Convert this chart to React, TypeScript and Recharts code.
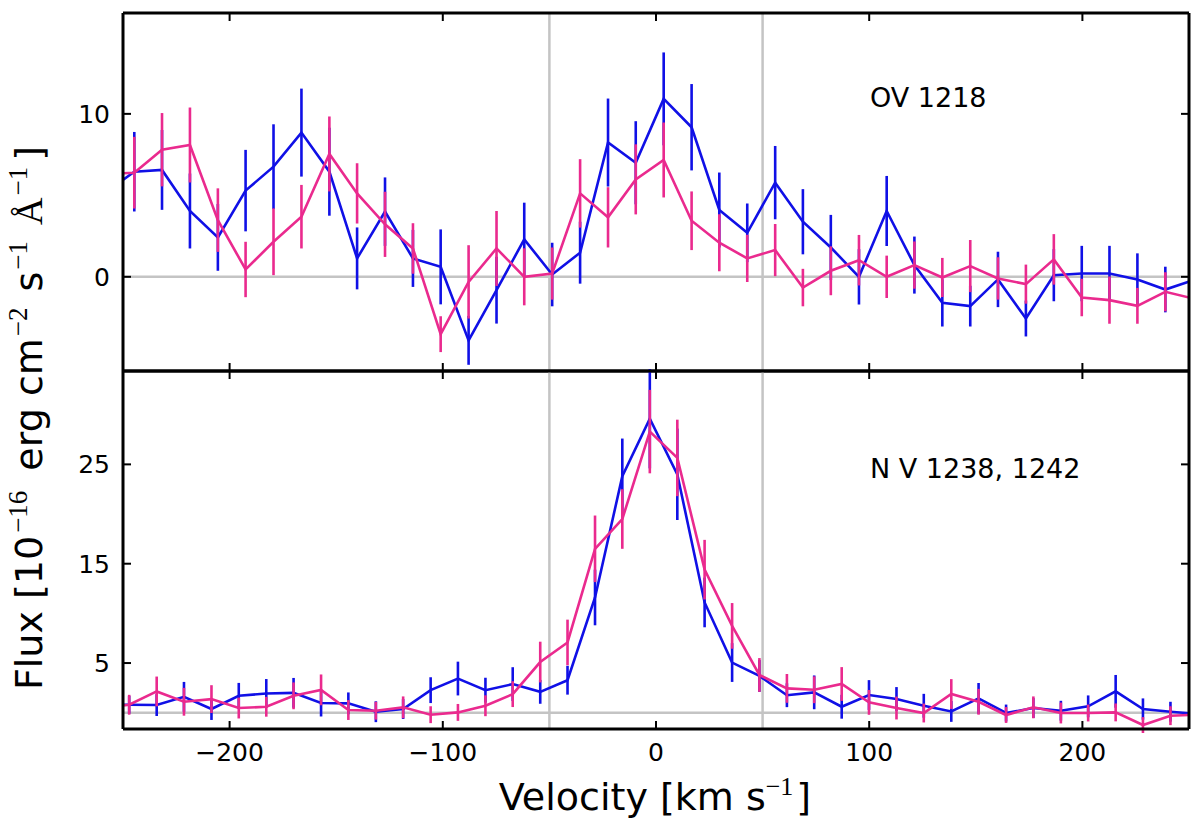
import React from "react";
import {
  LineChart,
  Line,
  XAxis,
  YAxis,
  ErrorBar,
  ReferenceLine,
} from "recharts";

// O V 1218 panel: velocity grid (km/s), two spectra with 1-sigma errors
const ovVelocity = [
  -257.8, -244.7, -231.7, -218.6, -205.5, -192.5, -179.4, -166.3, -153.2, -140.2,
  -127.1, -114.0, -101.0, -87.9, -74.8, -61.8, -48.7, -35.6, -22.5, -9.5,
  3.6, 16.7, 29.7, 42.8, 55.9, 68.9, 82.0, 95.2, 108.2, 121.2,
  134.3, 147.4, 160.4, 173.5, 186.6, 199.7, 212.7, 225.8, 238.9, 252.0,
];
const ovBlue = [
  5.2, 6.45, 6.56, 4.04, 2.42, 5.29, 6.76, 8.85, 6.45, 1.13,
  4.0, 1.13, 0.61, -3.9, -0.82, 2.3, 0.14, 1.48, 8.24, 7.0,
  10.92, 9.18, 4.1, 2.7, 5.78, 3.38, 1.8, 0.0, 4.04, 0.72,
  -1.6, -1.8, -0.16, -2.56, 0.1, 0.2, 0.2, -0.16, -0.78, -0.2,
];
const ovBlueErr = [
  2.4, 2.44, 2.45, 2.3, 2.05, 2.5, 2.6, 2.7, 2.7, 1.9,
  2.1, 1.75, 2.3, 1.5, 2.05, 2.25, 1.95, 1.9, 2.7, 2.55,
  2.85, 2.65, 2.3, 1.8, 2.25, 2.0, 2.0, 1.7, 2.15, 1.75,
  1.45, 1.25, 1.7, 1.1, 1.6, 1.7, 1.7, 1.6, 1.4, 1.4,
];
const ovPink = [
  6.3, 6.39, 7.8, 8.09, 3.48, 0.45, 2.15, 3.69, 7.54, 5.12,
  3.22, 1.74, -3.52, -0.31, 1.74, 0.0, 0.2, 5.12, 3.65, 5.98,
  7.17, 3.44, 2.09, 1.13, 1.64, -0.66, 0.37, 1.02, 0.0, 0.72,
  -0.04, 0.66, -0.1, -0.45, 1.07, -1.27, -1.43, -1.78, -0.92, -1.33,
];
const ovPinkErr = [
  2.2, 2.2, 2.25, 2.3, 1.95, 1.7, 2.05, 1.95, 2.3, 1.85,
  2.0, 1.55, 1.1, 2.25, 2.3, 1.75, 1.6, 2.1, 1.85, 2.15,
  2.3, 1.8, 1.75, 1.45, 1.6, 1.15, 1.5, 1.55, 1.3, 1.45,
  1.2, 1.6, 1.3, 1.2, 1.55, 1.15, 1.45, 1.1, 1.2, 1.2,
];

// N V 1238, 1242 panel
const nvVelocity = [
  -259.9, -247.1, -234.2, -221.4, -208.5, -195.7, -182.8, -170.0, -157.1, -144.3,
  -131.4, -118.6, -105.7, -92.9, -80.0, -67.2, -54.3, -41.5, -28.6, -15.8,
  -2.9, 10.0, 22.8, 35.7, 48.5, 61.4, 74.2, 87.1, 99.9, 112.8,
  125.6, 138.5, 151.3, 164.2, 177.0, 189.9, 202.7, 215.6, 228.4, 241.3, 254.1,
];
const nvBlue = [
  0.8, 0.8, 0.77, 1.6, 0.37, 1.7, 1.94, 2.0, 0.97, 0.94,
  0.1, 0.37, 2.27, 3.44, 2.27, 2.88, 2.1, 3.27, 11.6, 23.8,
  29.6, 24.0, 11.1, 5.05, 3.7, 1.76, 2.05, 0.6, 1.78, 1.38,
  0.7, 0.13, 1.44, -0.03, 0.47, 0.2, 0.64, 2.15, 0.37, 0.1, -0.12,
];
const nvBlueErr = [
  0.9, 0.9, 1.1, 1.5, 1.1, 1.3, 1.45, 1.5, 1.35, 1.1,
  1.05, 1.0, 1.3, 1.7, 1.25, 1.7, 1.2, 1.45, 2.8, 3.8,
  5.0, 4.6, 2.5, 1.95, 1.6, 1.2, 1.7, 1.2, 1.5, 1.2,
  1.2, 1.05, 1.55, 0.85, 1.0, 1.0, 1.1, 1.65, 1.07, 1.0, 1.0,
];
const nvPink = [
  0.5, 0.8, 2.14, 1.1, 1.37, 0.47, 0.6, 1.7, 2.3, 0.27,
  0.2, 0.54, -0.2, 0.03, 0.7, 1.87, 5.1, 7.07, 16.5, 19.5,
  28.3, 25.65, 14.4, 8.74, 3.8, 2.45, 2.31, 2.89, 1.04, 0.47,
  -0.03, 1.88, 1.1, -0.23, 0.54, -0.03, -0.03, 0.03, -1.24, -0.3, -0.2,
];
const nvPinkErr = [
  1.0, 1.0, 1.5, 1.4, 1.4, 1.05, 1.0, 1.35, 1.55, 1.0,
  0.9, 1.1, 0.85, 0.85, 1.05, 1.3, 2.05, 2.3, 3.35, 3.0,
  4.2, 3.85, 3.0, 2.3, 1.7, 1.45, 1.35, 1.7, 1.25, 1.15,
  0.95, 1.5, 1.3, 0.8, 1.1, 1.05, 0.85, 0.9, 0.8, 0.95, 0.95,
];

const xTicks = [-200, -100, 0, 100, 200];
const ovTicks = [0, 10];
const nvTicks = [5, 15, 25];
const X_DOMAIN: [number, number] = [-250, 250];

const BLUE = "#1010e6";
const PINK = "#ea2a8e";
const GREY = "#c4c4c4";
const FONT = "DejaVu Sans";

const W = 1200;
const H = 830;
const PLOT_LEFT = 123;
const PLOT_RIGHT = 11;
const SPLIT = 371;
const PLOT_BOTTOM = 729;

const fmt = (v: number) => (v < 0 ? `\u2212${-v}` : `${v}`);
const blank = () => "";

// error bars of points beyond the plotted velocity window are not drawn
const inView = (v: number) => v >= X_DOMAIN[0] && v <= X_DOMAIN[1];

function table(
  vel: number[],
  blue: number[],
  blueErr: number[],
  pink: number[],
  pinkErr: number[]
) {
  return vel.map((v, i) => ({
    v,
    blue: blue[i],
    blueErr: inView(v) ? blueErr[i] : null,
    pink: pink[i],
    pinkErr: inView(v) ? pinkErr[i] : null,
  }));
}

const ovData = table(ovVelocity, ovBlue, ovBlueErr, ovPink, ovPinkErr);
const nvData = table(nvVelocity, nvBlue, nvBlueErr, nvPink, nvPinkErr);

interface PanelProps {
  data: ReturnType<typeof table>;
  yDomain: [number, number];
  yTicks: number[];
  top: number;
  bottom: number;
  xLabels: boolean;
}

function Panel({ data, yDomain, yTicks, top, bottom, xLabels }: PanelProps) {
  const axisLine = { stroke: "#000", strokeWidth: 3 };
  const tickLine = { stroke: "#000", strokeWidth: 2 };
  const tickText = { fill: "#000", fontSize: 25, fontFamily: FONT };
  return (
    <div style={{ position: "absolute", left: 0, top: 0 }}>
      <LineChart
        width={W}
        height={H}
        data={data}
        margin={{ top: top - 1, right: PLOT_RIGHT - 1, bottom: bottom - 1, left: 0 }}
      >
        <XAxis
          dataKey="v"
          type="number"
          domain={X_DOMAIN}
          allowDataOverflow
          ticks={xTicks}
          height={1}
          tickSize={-8}
          tickMargin={22}
          axisLine={axisLine}
          tickLine={tickLine}
          tick={tickText}
          tickFormatter={xLabels ? fmt : blank}
        />
        <XAxis
          xAxisId="top"
          orientation="top"
          dataKey="v"
          type="number"
          domain={X_DOMAIN}
          allowDataOverflow
          ticks={xTicks}
          height={1}
          tickSize={-8}
          axisLine={axisLine}
          tickLine={tickLine}
          tickFormatter={blank}
        />
        <YAxis
          type="number"
          domain={yDomain}
          allowDataOverflow
          ticks={yTicks}
          width={PLOT_LEFT}
          tickSize={-8}
          tickMargin={21}
          axisLine={axisLine}
          tickLine={tickLine}
          tick={tickText}
          tickFormatter={fmt}
        />
        <YAxis
          yAxisId="right"
          orientation="right"
          type="number"
          domain={yDomain}
          allowDataOverflow
          ticks={yTicks}
          width={1}
          tickSize={-8}
          axisLine={axisLine}
          tickLine={tickLine}
          tickFormatter={blank}
        />
        <ReferenceLine y={0} stroke={GREY} strokeWidth={2.5} />
        <ReferenceLine x={-50} stroke={GREY} strokeWidth={2.5} />
        <ReferenceLine x={50} stroke={GREY} strokeWidth={2.5} />
        <Line
          dataKey="blue"
          type="linear"
          stroke={BLUE}
          strokeWidth={2.6}
          dot={false}
          isAnimationActive={false}
        >
          <ErrorBar
            dataKey="blueErr"
            direction="y"
            width={0}
            stroke={BLUE}
            strokeWidth={2.6}
            isAnimationActive={false}
          />
        </Line>
        <Line
          dataKey="pink"
          type="linear"
          stroke={PINK}
          strokeWidth={2.6}
          dot={false}
          isAnimationActive={false}
        >
          <ErrorBar
            dataKey="pinkErr"
            direction="y"
            width={0}
            stroke={PINK}
            strokeWidth={2.6}
            isAnimationActive={false}
          />
        </Line>
      </LineChart>
    </div>
  );
}

function Labels() {
  const serif = "Liberation Serif";
  return (
    <svg
      width={W}
      height={H}
      style={{ position: "absolute", left: 0, top: 0, pointerEvents: "none" }}
    >
      <text x={870} y={107} fontSize={27} fontFamily={FONT} fill="#000">
        OV 1218
      </text>
      <text x={870} y={478} fontSize={27} fontFamily={FONT} fill="#000">
        N V 1238, 1242
      </text>
      <text
        x={655}
        y={810}
        fontSize={38}
        fontFamily={FONT}
        fill="#000"
        textAnchor="middle"
      >
        Velocity [km s
        <tspan dy={-15} fontSize={26} fontFamily={serif}>
          {"\u22121"}
        </tspan>
        <tspan dy={15} dx={3}>]</tspan>
      </text>
      <text
        x={42}
        y={418}
        transform="rotate(-90 42 418)"
        fontSize={38}
        fontFamily={FONT}
        fill="#000"
        textAnchor="middle"
      >
        Flux [10
        <tspan dy={-15} dx={3} fontSize={27} fontFamily={serif}>
          {"\u221216"}
        </tspan>
        <tspan dy={15} dx={20}>erg cm</tspan>
        <tspan dy={-15} dx={2} fontSize={27} fontFamily={serif}>
          {"\u22122"}
        </tspan>
        <tspan dy={15} dx={16}>s</tspan>
        <tspan dy={-15} dx={2} fontSize={27} fontFamily={serif}>
          {"\u22121"}
        </tspan>
        <tspan dy={15} dx={16} fontFamily={serif}>
          {"\u00c5"}
        </tspan>
        <tspan dy={-15} dx={2} fontSize={27} fontFamily={serif}>
          {"\u22121"}
        </tspan>
        <tspan dy={15} dx={6}>]</tspan>
      </text>
    </svg>
  );
}

export default function App() {
  return (
    <div
      style={{
        position: "absolute",
        left: 0,
        top: 0,
        width: W,
        height: H,
        background: "#fff",
        overflow: "hidden",
      }}
    >
      <Panel
        data={ovData}
        yDomain={[-5.78, 16.19]}
        yTicks={ovTicks}
        top={13}
        bottom={H - SPLIT}
        xLabels={false}
      />
      <Panel
        data={nvData}
        yDomain={[-1.64, 34.4]}
        yTicks={nvTicks}
        top={SPLIT}
        bottom={H - PLOT_BOTTOM}
        xLabels
      />
      <Labels />
    </div>
  );
}
